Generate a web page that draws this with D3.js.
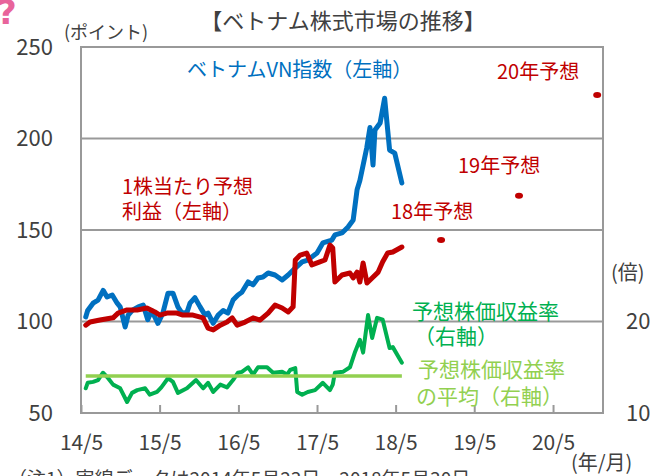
<!DOCTYPE html>
<html>
<head>
<meta charset="utf-8">
<script src="https://cdn.jsdelivr.net/npm/d3@7"></script>
<style>
  body { margin: 0; background: #fff; }
  text { font-family: "Noto Sans CJK JP", "Noto Sans", sans-serif; }
</style>
</head>
<body>
<div id="chart"></div>
<script>
// VN index (left axis)
const vnIndex = [
  ["2014-05-23", 102.5], ["2014-06-01", 106], ["2014-06-26", 110], ["2014-07-19", 111.7],
  ["2014-08-12", 117], ["2014-08-30", 113.4], ["2014-09-23", 114.5], ["2014-10-16", 110],
  ["2014-10-30", 108], ["2014-11-22", 97], ["2014-12-06", 103.5], ["2014-12-24", 106],
  ["2015-01-22", 108], ["2015-02-14", 109], ["2015-03-07", 101], ["2015-03-25", 106],
  ["2015-04-23", 99], ["2015-05-16", 104.6], ["2015-06-09", 115.5], ["2015-07-02", 115.5],
  ["2015-07-25", 108], ["2015-08-13", 104.6], ["2015-09-05", 105], ["2015-09-19", 110],
  ["2015-10-12", 113], ["2015-11-05", 108], ["2015-11-28", 103.5], ["2015-12-12", 104.6],
  ["2016-01-05", 99], ["2016-01-28", 103.5], ["2016-02-20", 106], ["2016-03-13", 104.6],
  ["2016-04-06", 111.7], ["2016-04-29", 114.5], ["2016-05-17", 116], ["2016-06-15", 121.6],
  ["2016-07-08", 120], ["2016-07-31", 123.8], ["2016-08-23", 124.3], ["2016-09-16", 126.5],
  ["2016-10-18", 125.4], ["2016-11-20", 122.7], ["2016-12-18", 125.4], ["2017-01-20", 129.2],
  ["2017-02-21", 132.6], ["2017-03-19", 133.6], ["2017-05-01", 137.4], ["2017-05-28", 142.9],
  ["2017-07-09", 144.5], ["2017-07-23", 147.3], ["2017-08-25", 148.4], ["2017-09-22", 151.6],
  ["2017-10-16", 155.5], ["2017-11-03", 172], ["2017-11-16", 177], ["2017-12-18", 195],
  ["2018-01-02", 206], ["2018-01-16", 185.5], ["2018-01-25", 204.6], ["2018-02-18", 208.5],
  ["2018-03-11", 222], ["2018-04-03", 193.7], ["2018-04-27", 192], ["2018-05-30", 175.7]
];

// EPS forecast (left axis)
const epsForecast = [
  ["2014-05-23", 98], ["2014-06-12", 99.7], ["2014-07-28", 100.8], ["2014-09-27", 102],
  ["2014-10-20", 104.6], ["2014-12-01", 106.3], ["2015-01-17", 106.3], ["2015-03-03", 107.4],
  ["2015-04-09", 105.2], ["2015-05-02", 103.5], ["2015-06-04", 104.6], ["2015-07-20", 104.6],
  ["2015-08-17", 103.5], ["2015-10-03", 103.5], ["2015-11-19", 102], ["2015-12-12", 96.4],
  ["2016-01-05", 95.4], ["2016-02-07", 98], ["2016-03-09", 99.7], ["2016-04-02", 102],
  ["2016-04-25", 98], ["2016-06-01", 99.7], ["2016-07-08", 102], ["2016-08-09", 100.8],
  ["2016-09-16", 104.6], ["2016-10-18", 109], ["2016-11-20", 107.4], ["2016-12-18", 105.2],
  ["2017-01-10", 108], ["2017-01-20", 133.6], ["2017-02-12", 136.3], ["2017-03-14", 137.4],
  ["2017-04-07", 130.9], ["2017-05-14", 132.6], ["2017-06-07", 133.6], ["2017-06-30", 141.8],
  ["2017-07-13", 140.2], ["2017-07-23", 121.6], ["2017-08-25", 125.4], ["2017-10-01", 126.5],
  ["2017-10-16", 123.8], ["2017-11-03", 127], ["2017-11-16", 121.6], ["2017-12-01", 132],
  ["2017-12-19", 121], ["2018-01-12", 123.8], ["2018-02-09", 127], ["2018-03-02", 132.6],
  ["2018-03-25", 137.4], ["2018-04-18", 138], ["2018-05-30", 140.7]
];

// forward PER (right axis, times)
const perForecast = [
  ["2014-05-23", 12.7], ["2014-06-01", 13.3], ["2014-06-26", 13.4], ["2014-07-19", 13.6],
  ["2014-08-11", 14.4], ["2014-09-04", 13.8], ["2014-09-27", 13.1], ["2014-10-30", 12.7],
  ["2014-12-01", 11.2], ["2014-12-24", 12.2], ["2015-01-17", 12.5], ["2015-02-23", 12.7],
  ["2015-03-16", 12.0], ["2015-04-19", 12.3], ["2015-05-09", 12.8], ["2015-06-09", 13.8],
  ["2015-07-02", 13.4], ["2015-07-25", 12.2], ["2015-09-05", 12.7], ["2015-10-03", 13.3],
  ["2015-10-17", 13.6], ["2015-11-19", 12.7], ["2015-12-12", 13.3], ["2016-01-05", 12.3],
  ["2016-02-07", 13.1], ["2016-03-09", 12.8], ["2016-04-06", 13.6], ["2016-04-29", 14.4],
  ["2016-05-17", 14.5], ["2016-06-15", 15.0], ["2016-07-08", 14.2], ["2016-07-31", 15.0],
  ["2016-09-11", 15.0], ["2016-10-09", 14.4], ["2016-11-20", 14.5], ["2016-12-13", 14.2],
  ["2016-12-27", 14.7], ["2017-01-20", 14.9], ["2017-01-29", 12.3], ["2017-02-21", 12.0],
  ["2017-03-19", 12.3], ["2017-04-22", 12.5], ["2017-05-28", 13.3], ["2017-06-30", 12.5],
  ["2017-07-13", 13.1], ["2017-07-23", 14.4], ["2017-08-29", 14.5], ["2017-10-01", 15.0],
  ["2017-10-25", 16.7], ["2017-11-16", 18.0], ["2017-12-01", 16.6], ["2017-12-24", 20.7],
  ["2018-01-12", 18.2], ["2018-02-04", 20.4], ["2018-03-02", 20.2], ["2018-04-03", 17.1],
  ["2018-04-18", 17.2], ["2018-05-30", 15.5]
];

const perAverage = 14.05;

// EPS forecast dots for 18/19/20
const forecastDates = ["2018-11-28", "2019-11-25", "2020-11-22"];
const forecastValues = [144.5, 168.7, 223.8];
const forecastLabels = ["18年予想", "19年予想", "20年予想"];

const leftTicks = [50, 100, 150, 200, 250];
const rightTicks = [10, 20];
const gridValues = [100, 150, 200];
const xTickDates = ["2014-05-01", "2015-05-01", "2016-05-01", "2017-05-01", "2018-05-01", "2019-05-01", "2020-05-01"];
const xTickLabels = ["14/5", "15/5", "16/5", "17/5", "18/5", "19/5", "20/5"];

const parseDate = d3.timeParse("%Y-%m-%d");
const W = 654, H = 476;
const plot = {left: 81, right: 603, top: 47, bottom: 413};

const svg = d3.select("#chart").append("svg")
    .attr("width", W)
    .attr("height", H);

const x = d3.scaleTime()
    .domain([parseDate("2014-05-01"), parseDate("2020-12-19")])
    .range([plot.left, plot.right]);

const yLeft = d3.scaleLinear().domain([50, 250]).range([plot.bottom, plot.top]);
const yRight = d3.scaleLinear().domain([10, 50]).range([plot.bottom, plot.top]);

const gray = "#999999";
const textColor = "#404040";

// gridlines
svg.append("g").selectAll("line")
    .data(gridValues)
    .enter().append("line")
    .attr("x1", plot.left).attr("x2", plot.right)
    .attr("y1", d => yLeft(d)).attr("y2", d => yLeft(d))
    .attr("stroke", gray).attr("stroke-width", 2);

// frame
svg.append("rect")
    .attr("x", plot.left).attr("y", plot.top)
    .attr("width", plot.right - plot.left)
    .attr("height", plot.bottom - plot.top)
    .attr("fill", "none")
    .attr("stroke", gray).attr("stroke-width", 2);

// x axis ticks (inside, pointing up)
const xAxis = d3.axisBottom(x)
    .tickValues(xTickDates.map(parseDate))
    .tickSizeInner(-8)
    .tickSizeOuter(0)
    .tickPadding(22)
    .tickFormat((d, i) => xTickLabels[i]);

const gx = svg.append("g")
    .attr("transform", `translate(0,${plot.bottom})`)
    .call(xAxis);
gx.select(".domain").remove();
gx.selectAll(".tick line").attr("stroke", gray).attr("stroke-width", 2);
gx.selectAll(".tick text")
    .attr("fill", textColor)
    .style("font-size", "21px")
    .style("font-family", "'Noto Sans CJK JP', sans-serif");

// left axis labels
const gyl = svg.append("g")
    .attr("transform", `translate(${plot.left},0)`)
    .call(d3.axisLeft(yLeft).tickValues(leftTicks).tickSize(0).tickPadding(28));
gyl.select(".domain").remove();
gyl.selectAll(".tick text")
    .attr("fill", textColor)
    .style("font-size", "22px")
    .style("font-family", "'Noto Sans CJK JP', sans-serif");

// right axis labels
const gyr = svg.append("g")
    .attr("transform", `translate(${plot.right},0)`)
    .call(d3.axisRight(yRight).tickValues(rightTicks).tickSize(0).tickPadding(23));
gyr.select(".domain").remove();
gyr.selectAll(".tick text")
    .attr("fill", textColor)
    .style("font-size", "22px")
    .style("font-family", "'Noto Sans CJK JP', sans-serif");

// lines
const lineLeft = d3.line().x(d => x(parseDate(d[0]))).y(d => yLeft(d[1]));
const lineRight = d3.line().x(d => x(parseDate(d[0]))).y(d => yRight(d[1]));

svg.append("path").datum(vnIndex)
    .attr("d", lineLeft)
    .attr("fill", "none").attr("stroke", "#0070c0")
    .attr("stroke-width", 5).attr("stroke-linejoin", "round").attr("stroke-linecap", "round");

svg.append("path").datum(epsForecast)
    .attr("d", lineLeft)
    .attr("fill", "none").attr("stroke", "#c00000")
    .attr("stroke-width", 5).attr("stroke-linejoin", "round").attr("stroke-linecap", "round");

svg.append("path").datum(perForecast)
    .attr("d", lineRight)
    .attr("fill", "none").attr("stroke", "#00b050")
    .attr("stroke-width", 4).attr("stroke-linejoin", "round").attr("stroke-linecap", "round");

const avgStart = perForecast[0][0], avgEnd = perForecast[perForecast.length - 1][0];
svg.append("path").datum([[avgStart, perAverage], [avgEnd, perAverage]])
    .attr("d", lineRight)
    .attr("fill", "none").attr("stroke", "#92d050")
    .attr("stroke-width", 3.5);

// forecast dots
svg.append("g").selectAll("ellipse")
    .data(forecastDates)
    .enter().append("ellipse")
    .attr("cx", d => x(parseDate(d)))
    .attr("cy", (d, i) => yLeft(forecastValues[i]))
    .attr("rx", 4).attr("ry", 3)
    .attr("fill", "#c00000");

// texts
function label(str, px, py, size, color, anchor) {
    return svg.append("text")
        .attr("x", px).attr("y", py)
        .attr("fill", color)
        .attr("text-anchor", anchor || "start")
        .style("font-size", size + "px")
        .text(str);
}

label("?", -3, 24, 34, "#e8649b")
    .style("font-family", "'DejaVu Sans', sans-serif")
    .style("font-weight", "bold");
label("【ベトナム株式市場の推移】", 343, 29, 22, textColor, "middle");
label("(ポイント)", 64, 39, 18, textColor);
label("(倍)", 611, 280, 20, textColor);
label("(年/月)", 571, 470, 20, textColor);
label("（注1）実線データは2014年5月23日～2018年5月30日", 8, 486, 19, textColor);

label("ベトナムVN指数（左軸）", 187, 77, 20, "#0070c0");
label("1株当たり予想", 122, 194, 20, "#c00000");
label("利益（左軸）", 122, 219, 20, "#c00000");
label(forecastLabels[0], 391, 219, 20, "#c00000");
label(forecastLabels[1], 458, 173, 20, "#c00000");
label(forecastLabels[2], 497, 79, 20, "#c00000");

label("予想株価収益率", 412, 319, 21, "#00b050");
label("（右軸）", 414, 344, 21, "#00b050");
label("予想株価収益率", 418, 377, 21, "#92d050");
label("の平均（右軸）", 416, 404, 21, "#92d050");
</script>
</body>
</html>
